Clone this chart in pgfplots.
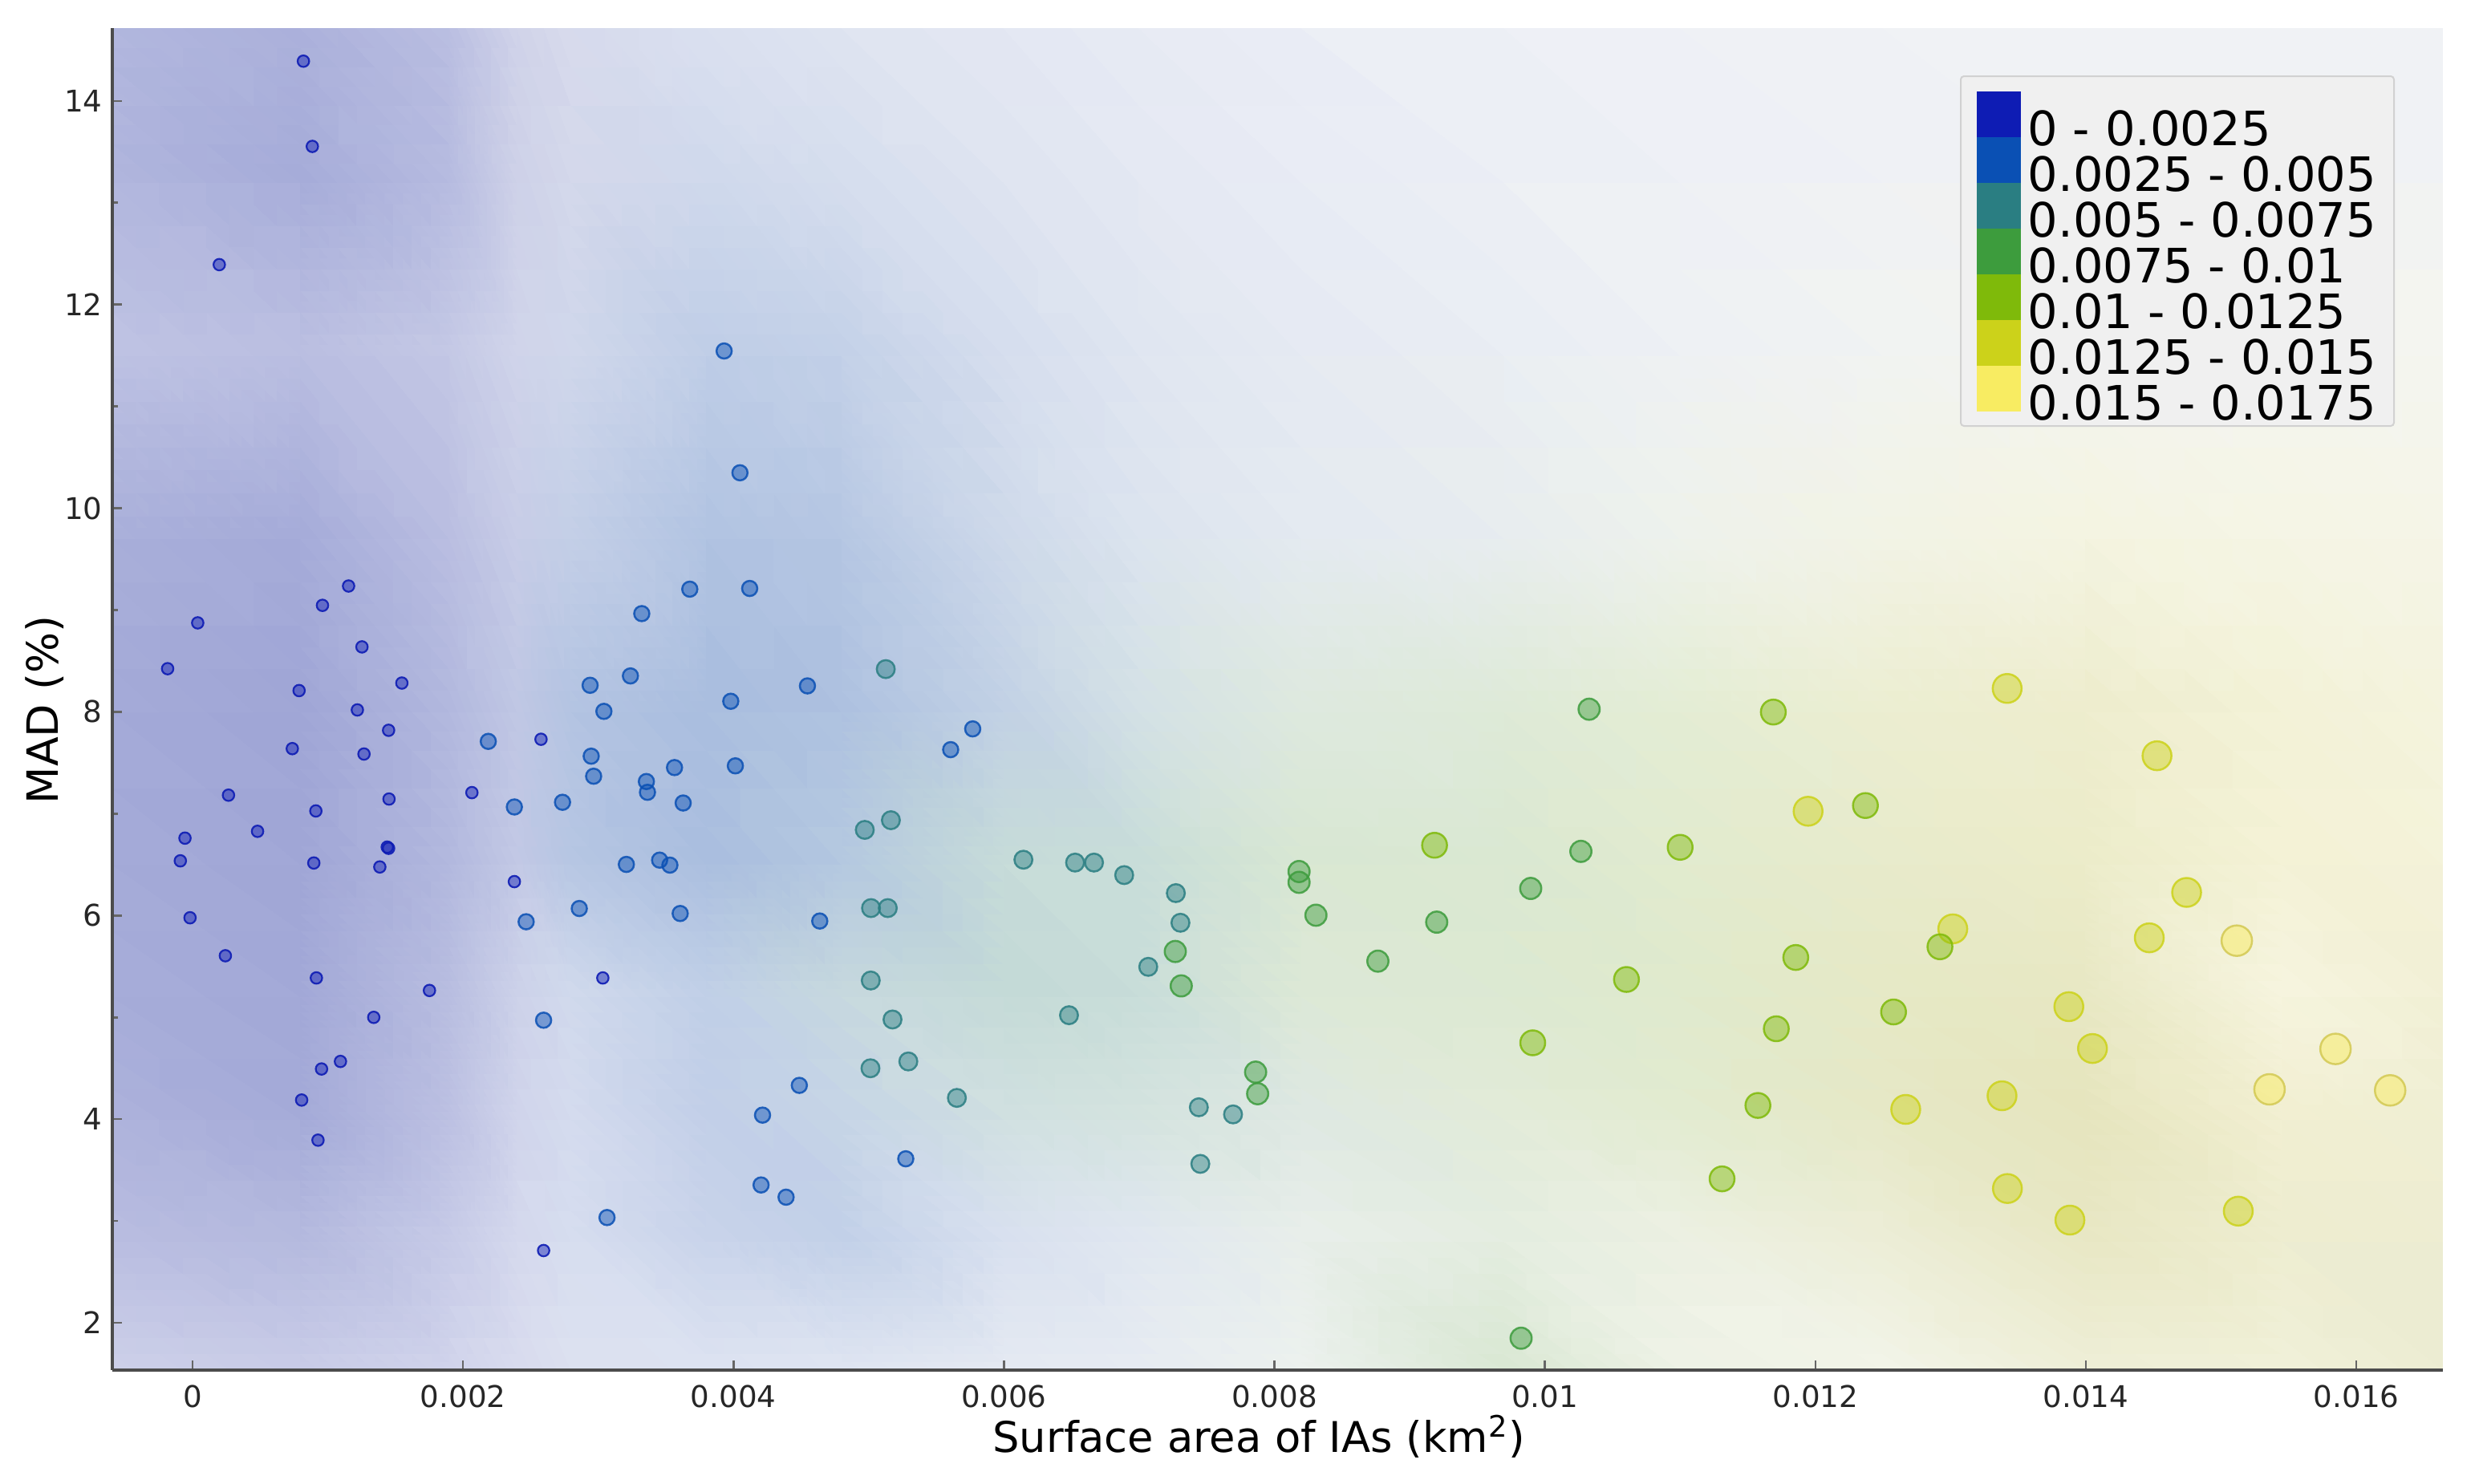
\documentclass[border=0pt]{standalone}
\usepackage{fontspec}
\setmainfont{DejaVu Sans}
\usepackage{pgfplots}
\pgfplotsset{compat=1.18}

\definecolor{c0}{RGB}{14,28,180}
\definecolor{c1}{RGB}{10,80,180}
\definecolor{c2}{RGB}{42,126,130}
\definecolor{c3}{RGB}{61,156,61}
\definecolor{c4}{RGB}{127,186,10}
\definecolor{c5}{RGB}{204,210,26}
\definecolor{c6}{RGB}{248,236,98}

\begin{document}
\begin{tikzpicture}
\begin{axis}[
  view={0}{90},
  scale only axis,
  width=290.5mm, height=167.3mm,
  xmin=-0.000593, xmax=0.01664,
  ymin=1.536, ymax=14.715,
  zmin=-1, zmax=1,
  axis lines*=left,
  axis z line=none,
  axis line style={draw=black!70, line width=0.4mm},
  tick align=inside,
  major tick length=1.2mm, minor tick length=0.7mm,
  every tick/.style={draw=black!60, line width=0.25mm},
  /pgf/number format/assume math mode=true,
  scaled x ticks=false,
  xtick={0,0.002,0.004,0.006,0.008,0.01,0.012,0.014,0.016},
  xticklabels={0,0.002,0.004,0.006,0.008,0.01,0.012,0.014,0.016},
  ytick={2,4,6,8,10,12,14},
  yticklabels={2,4,6,8,10,12,14},
  minor ytick={3,5,7,9,11,13},
  ztick=\empty,
  tick label style={font=\fontsize{10.6}{12}\selectfont, text=black!85},
  xticklabel style={yshift=-0.6mm},
  xlabel={Surface area of IAs (km\textsuperscript{2})},
  ylabel={MAD (\%)},
  every axis x label/.style={at={(axis description cs:0.492,-0.061)}, anchor=base, font=\fontsize{15}{18}\selectfont},
  every axis y label/.style={at={(axis description cs:-0.0234,0.492)}, anchor=base, rotate=90, font=\fontsize{15.3}{18}\selectfont},
  axis on top,
]
% interpolated background field (explicit colours at grid nodes)
\addplot3[surf, shader=interp, mesh/rows=10, mesh/cols=16,
  mesh/color input=explicit, point meta=explicit symbolic]
  table[x=x, y=y, z=z, meta=c] {
x y z c
-0.000593 1.536 0 rgb255=204,207,232
0.0008 1.536 0 rgb255=200,203,231
0.0019 1.536 0 rgb255=208,211,235
0.0024 1.536 0 rgb255=216,219,238
0.0028 1.536 0 rgb255=220,225,240
0.0038 1.536 0 rgb255=220,226,241
0.0048 1.536 0 rgb255=222,228,241
0.0060 1.536 0 rgb255=228,233,242
0.0070 1.536 0 rgb255=230,235,242
0.0082 1.536 0 rgb255=236,241,238
0.0097 1.536 0 rgb255=218,232,212
0.0110 1.536 0 rgb255=238,242,230
0.0125 1.536 0 rgb255=242,244,232
0.0140 1.536 0 rgb255=238,238,214
0.01545 1.536 0 rgb255=240,240,216
0.01664 1.536 0 rgb255=236,236,210
-0.000593 2.8 0 rgb255=184,188,224
0.0008 2.8 0 rgb255=180,185,222
0.0019 2.8 0 rgb255=198,202,231
0.0024 2.8 0 rgb255=212,216,237
0.0028 2.8 0 rgb255=214,221,239
0.0038 2.8 0 rgb255=200,211,234
0.0048 2.8 0 rgb255=194,208,232
0.0060 2.8 0 rgb255=216,224,239
0.0070 2.8 0 rgb255=224,231,240
0.0082 2.8 0 rgb255=232,238,234
0.0097 2.8 0 rgb255=228,237,224
0.0110 2.8 0 rgb255=236,240,226
0.0125 2.8 0 rgb255=236,237,214
0.0140 2.8 0 rgb255=232,231,196
0.01545 2.8 0 rgb255=238,237,208
0.01664 2.8 0 rgb255=238,237,210
-0.000593 4.0 0 rgb255=172,177,219
0.0008 4.0 0 rgb255=164,170,216
0.0019 4.0 0 rgb255=188,192,226
0.0024 4.0 0 rgb255=208,212,235
0.0028 4.0 0 rgb255=212,219,238
0.0038 4.0 0 rgb255=194,207,232
0.0048 4.0 0 rgb255=198,213,230
0.0060 4.0 0 rgb255=208,224,224
0.0070 4.0 0 rgb255=212,227,223
0.0082 4.0 0 rgb255=222,232,226
0.0097 4.0 0 rgb255=226,235,216
0.0110 4.0 0 rgb255=226,235,208
0.0125 4.0 0 rgb255=230,232,198
0.0140 4.0 0 rgb255=230,229,190
0.01545 4.0 0 rgb255=242,239,210
0.01664 4.0 0 rgb255=240,239,212
-0.000593 5.2 0 rgb255=166,172,217
0.0008 5.2 0 rgb255=162,168,215
0.0019 5.2 0 rgb255=184,189,224
0.0024 5.2 0 rgb255=204,209,233
0.0028 5.2 0 rgb255=208,217,236
0.0038 5.2 0 rgb255=192,207,231
0.0048 5.2 0 rgb255=198,216,222
0.0060 5.2 0 rgb255=196,218,215
0.0070 5.2 0 rgb255=200,221,217
0.0082 5.2 0 rgb255=220,232,214
0.0097 5.2 0 rgb255=220,233,210
0.0110 5.2 0 rgb255=224,234,205
0.0125 5.2 0 rgb255=230,233,198
0.0140 5.2 0 rgb255=232,232,196
0.01545 5.2 0 rgb255=246,244,222
0.01664 5.2 0 rgb255=242,240,214
-0.000593 6.5 0 rgb255=164,170,216
0.0008 6.5 0 rgb255=160,166,214
0.0019 6.5 0 rgb255=178,184,222
0.0024 6.5 0 rgb255=194,200,229
0.0028 6.5 0 rgb255=182,198,227
0.0038 6.5 0 rgb255=170,190,223
0.0048 6.5 0 rgb255=180,200,224
0.0060 6.5 0 rgb255=198,219,217
0.0070 6.5 0 rgb255=200,221,217
0.0082 6.5 0 rgb255=216,231,211
0.0097 6.5 0 rgb255=218,232,210
0.0110 6.5 0 rgb255=226,235,207
0.0125 6.5 0 rgb255=232,235,204
0.0140 6.5 0 rgb255=236,236,202
0.01545 6.5 0 rgb255=244,242,214
0.01664 6.5 0 rgb255=244,243,218
-0.000593 8.0 0 rgb255=164,170,216
0.0008 8.0 0 rgb255=160,166,214
0.0019 8.0 0 rgb255=178,184,222
0.0024 8.0 0 rgb255=192,199,228
0.0028 8.0 0 rgb255=180,196,226
0.0038 8.0 0 rgb255=170,190,223
0.0048 8.0 0 rgb255=174,193,224
0.0060 8.0 0 rgb255=194,209,229
0.0070 8.0 0 rgb255=212,225,230
0.0082 8.0 0 rgb255=222,233,223
0.0097 8.0 0 rgb255=222,234,216
0.0110 8.0 0 rgb255=228,237,213
0.0125 8.0 0 rgb255=236,238,210
0.0140 8.0 0 rgb255=238,237,206
0.01545 8.0 0 rgb255=243,242,216
0.01664 8.0 0 rgb255=244,243,222
-0.000593 9.7 0 rgb255=170,176,218
0.0008 9.7 0 rgb255=166,172,217
0.0019 9.7 0 rgb255=186,190,225
0.0024 9.7 0 rgb255=200,205,231
0.0028 9.7 0 rgb255=196,207,231
0.0038 9.7 0 rgb255=178,196,226
0.0048 9.7 0 rgb255=182,199,227
0.0060 9.7 0 rgb255=206,217,234
0.0070 9.7 0 rgb255=220,228,239
0.0082 9.7 0 rgb255=228,234,241
0.0097 9.7 0 rgb255=232,237,239
0.0110 9.7 0 rgb255=238,242,236
0.0125 9.7 0 rgb255=242,243,230
0.0140 9.7 0 rgb255=244,244,226
0.01545 9.7 0 rgb255=245,245,230
0.01664 9.7 0 rgb255=245,245,232
-0.000593 11.5 0 rgb255=190,194,227
0.0008 11.5 0 rgb255=186,190,225
0.0019 11.5 0 rgb255=196,200,229
0.0024 11.5 0 rgb255=208,212,234
0.0028 11.5 0 rgb255=208,215,235
0.0038 11.5 0 rgb255=192,206,231
0.0048 11.5 0 rgb255=196,209,232
0.0060 11.5 0 rgb255=214,222,238
0.0070 11.5 0 rgb255=224,230,241
0.0082 11.5 0 rgb255=230,234,243
0.0097 11.5 0 rgb255=234,238,244
0.0110 11.5 0 rgb255=238,241,244
0.0125 11.5 0 rgb255=241,243,242
0.0140 11.5 0 rgb255=243,244,240
0.01545 11.5 0 rgb255=244,245,240
0.01664 11.5 0 rgb255=244,245,240
-0.000593 13.2 0 rgb255=176,181,221
0.0008 13.2 0 rgb255=166,172,217
0.0019 13.2 0 rgb255=182,187,224
0.0024 13.2 0 rgb255=206,209,232
0.0028 13.2 0 rgb255=212,216,235
0.0038 13.2 0 rgb255=208,217,236
0.0048 13.2 0 rgb255=214,222,238
0.0060 13.2 0 rgb255=224,229,241
0.0070 13.2 0 rgb255=229,233,243
0.0082 13.2 0 rgb255=233,236,245
0.0097 13.2 0 rgb255=236,239,245
0.0110 13.2 0 rgb255=238,240,246
0.0125 13.2 0 rgb255=239,241,245
0.0140 13.2 0 rgb255=240,242,245
0.01545 13.2 0 rgb255=240,242,245
0.01664 13.2 0 rgb255=240,242,245
-0.000593 14.715 0 rgb255=178,183,222
0.0008 14.715 0 rgb255=172,177,219
0.0019 14.715 0 rgb255=186,190,225
0.0024 14.715 0 rgb255=208,211,233
0.0028 14.715 0 rgb255=216,219,237
0.0038 14.715 0 rgb255=220,225,240
0.0048 14.715 0 rgb255=224,229,241
0.0060 14.715 0 rgb255=228,232,243
0.0070 14.715 0 rgb255=231,235,244
0.0082 14.715 0 rgb255=234,237,245
0.0097 14.715 0 rgb255=236,239,246
0.0110 14.715 0 rgb255=238,240,246
0.0125 14.715 0 rgb255=239,241,246
0.0140 14.715 0 rgb255=240,242,246
0.01545 14.715 0 rgb255=240,242,246
0.01664 14.715 0 rgb255=240,242,246
};

% class 0 : 0 - 0.0025
\addplot3[only marks, mark=*, mark size=0.72mm,
  mark options={draw=c0, fill=c0, fill opacity=0.45, draw opacity=0.9, line width=0.22mm}]
  table[x=x, y=y, z expr=0] {
x y
0.00082 14.39
0.000886 13.553
0.000198 12.392
0.001154 9.236
0.000961 9.046
0.0000385 8.874
0.001253 8.638
-0.000184 8.424
0.001548 8.283
0.000788 8.209
0.001219 8.019
0.00145 7.819
0.002577 7.731
0.000738 7.639
0.001268 7.586
0.000266 7.182
0.001453 7.144
0.002066 7.207
0.000912 7.027
0.000481 6.827
-0.0000558 6.760
0.00144 6.672
0.00145 6.660
-0.00009 6.537
0.000897 6.516
0.001385 6.477
-0.0000184 5.978
0.000243 5.605
0.000916 5.387
0.001752 5.264
0.00134 5.000
0.001094 4.567
0.000954 4.493
0.000807 4.188
0.000928 3.794
0.00238 6.333
0.003034 5.387
0.002596 2.710
};

% class 1 : 0.0025 - 0.005
\addplot3[only marks, mark=*, mark size=0.95mm,
  mark options={draw=c1, fill=c1, fill opacity=0.45, draw opacity=0.85, line width=0.25mm}]
  table[x=x, y=y, z expr=0] {
x y
0.003931 11.544
0.004048 10.348
0.003677 9.205
0.00412 9.212
0.003322 8.965
0.003238 8.353
0.00294 8.261
0.004547 8.255
0.003042 8.005
0.00398 8.104
0.002187 7.710
0.002948 7.565
0.003564 7.453
0.004014 7.470
0.002966 7.368
0.003356 7.316
0.003364 7.210
0.00238 7.066
0.002736 7.112
0.003628 7.105
0.003208 6.502
0.003454 6.544
0.00353 6.495
0.00286 6.069
0.003606 6.020
0.004638 5.946
0.002467 5.939
0.002596 4.972
0.004487 4.332
0.004215 4.040
0.005274 3.611
0.004204 3.354
0.004389 3.234
0.003065 3.034
0.005769 7.833
0.005606 7.629
};

% class 2 : 0.005 - 0.0075
\addplot3[only marks, mark=*, mark size=1.12mm,
  mark options={draw=c2, fill=c2, fill opacity=0.45, draw opacity=0.85, line width=0.25mm}]
  table[x=x, y=y, z expr=0] {
x y
0.005126 8.420
0.004971 6.841
0.005164 6.936
0.005017 6.073
0.005141 6.073
0.005015 5.362
0.005176 4.979
0.005293 4.567
0.005013 4.500
0.006144 6.548
0.006526 6.520
0.006666 6.520
0.006889 6.397
0.007271 6.220
0.007305 5.929
0.007067 5.496
0.006481 5.021
0.005652 4.209
0.007441 4.117
0.007694 4.047
0.007452 3.561
};

% class 3 : 0.0075 - 0.01
\addplot3[only marks, mark=*, mark size=1.32mm,
  mark options={draw=c3, fill=c3, fill opacity=0.45, draw opacity=0.85, line width=0.25mm}]
  table[x=x, y=y, z expr=0] {
x y
0.007267 5.647
0.007311 5.309
0.007861 4.462
0.007876 4.250
0.008182 6.432
0.008182 6.326
0.008307 6.003
0.008765 5.552
0.010327 8.026
0.010266 6.630
0.009895 6.266
0.0092 5.935
0.009824 1.849
};

% class 5 : 0.0125 - 0.015
\addplot3[only marks, mark=*, mark size=1.8mm,
  mark options={draw=c5, fill=c5, fill opacity=0.45, draw opacity=0.85, line width=0.25mm}]
  table[x=x, y=y, z expr=0] {
x y
0.013418 8.230
0.014526 7.569
0.011946 7.024
0.014745 6.227
0.013016 5.869
0.014469 5.781
0.013874 5.105
0.014049 4.694
0.01338 4.230
0.012668 4.096
0.01342 3.319
0.015127 3.097
0.013882 3.009
};

% class 4 : 0.01 - 0.0125
\addplot3[only marks, mark=*, mark size=1.55mm,
  mark options={draw=c4, fill=c4, fill opacity=0.45, draw opacity=0.85, line width=0.25mm}]
  table[x=x, y=y, z expr=0] {
x y
0.009184 6.690
0.011689 7.998
0.01237 7.080
0.0110 6.670
0.010603 5.372
0.00991 4.750
0.012921 5.693
0.011855 5.588
0.012578 5.053
0.011711 4.888
0.011575 4.135
0.01131 3.414
};

% class 6 : 0.015 - 0.0175
\addplot3[only marks, mark=*, mark size=1.9mm,
  mark options={draw=c6!85!black, fill=c6, fill opacity=0.5, draw opacity=0.85, line width=0.25mm}]
  table[x=x, y=y, z expr=0] {
x y
0.015116 5.753
0.015846 4.690
0.015358 4.293
0.01625 4.283
};

% legend
\draw[draw=black!18, fill=black!6, rounded corners=0.4mm, line width=0.2mm]
  (axis description cs:0,1) ++(230.4mm,-6.0mm) rectangle ++(54mm,-43.6mm);
\fill[c0] (axis description cs:0,1) ++(232.4mm,-7.9mm) rectangle ++(5.5mm,-5.7mm);
\fill[c1] (axis description cs:0,1) ++(232.4mm,-13.6mm) rectangle ++(5.5mm,-5.7mm);
\fill[c2] (axis description cs:0,1) ++(232.4mm,-19.3mm) rectangle ++(5.5mm,-5.7mm);
\fill[c3] (axis description cs:0,1) ++(232.4mm,-25.0mm) rectangle ++(5.5mm,-5.7mm);
\fill[c4] (axis description cs:0,1) ++(232.4mm,-30.7mm) rectangle ++(5.5mm,-5.7mm);
\fill[c5] (axis description cs:0,1) ++(232.4mm,-36.4mm) rectangle ++(5.5mm,-5.7mm);
\fill[c6] (axis description cs:0,1) ++(232.4mm,-42.1mm) rectangle ++(5.5mm,-5.7mm);
\path (axis description cs:0,1) ++(238.7mm,-14.6mm) node[anchor=base west, inner sep=0pt, font=\fontsize{16.8}{18}\selectfont] {0 - 0.0025};
\path (axis description cs:0,1) ++(238.7mm,-20.3mm) node[anchor=base west, inner sep=0pt, font=\fontsize{16.8}{18}\selectfont] {0.0025 - 0.005};
\path (axis description cs:0,1) ++(238.7mm,-26.0mm) node[anchor=base west, inner sep=0pt, font=\fontsize{16.8}{18}\selectfont] {0.005 - 0.0075};
\path (axis description cs:0,1) ++(238.7mm,-31.7mm) node[anchor=base west, inner sep=0pt, font=\fontsize{16.8}{18}\selectfont] {0.0075 - 0.01};
\path (axis description cs:0,1) ++(238.7mm,-37.4mm) node[anchor=base west, inner sep=0pt, font=\fontsize{16.8}{18}\selectfont] {0.01 - 0.0125};
\path (axis description cs:0,1) ++(238.7mm,-43.1mm) node[anchor=base west, inner sep=0pt, font=\fontsize{16.8}{18}\selectfont] {0.0125 - 0.015};
\path (axis description cs:0,1) ++(238.7mm,-48.8mm) node[anchor=base west, inner sep=0pt, font=\fontsize{16.8}{18}\selectfont] {0.015 - 0.0175};
\coordinate (SW) at (axis description cs:0,0);
\end{axis}
\pgfresetboundingbox
\path[use as bounding box] (SW) ++(-14mm,-14.2mm) rectangle ++(309mm,185mm);
\end{tikzpicture}
\end{document}
